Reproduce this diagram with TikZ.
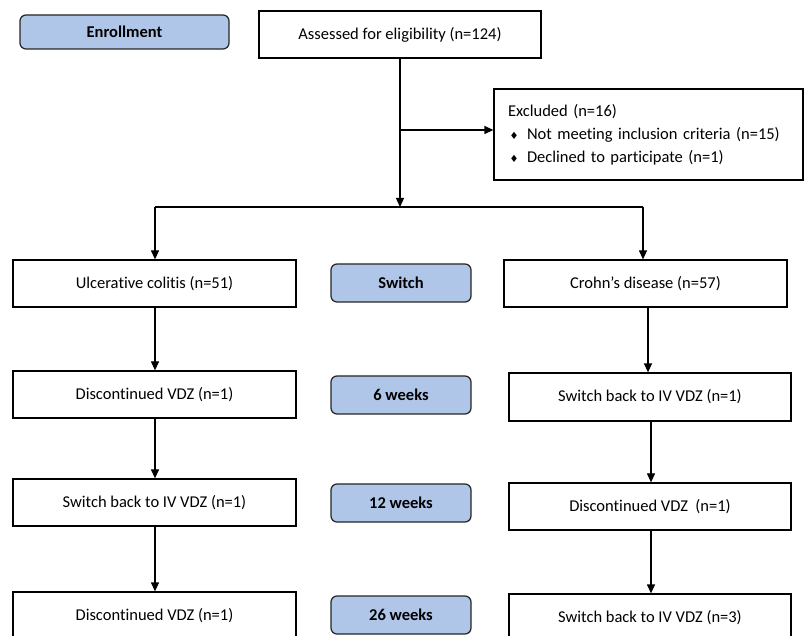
\documentclass[tikz,border=0pt]{standalone}
\usepackage{fontspec}
\setmainfont{Carlito}[Ligatures=NoCommon]
\newfontfamily\dejavu{DejaVu Sans}
\usetikzlibrary{arrows.meta}
\definecolor{boxblue}{HTML}{B0C6E8}
\newcommand{\bul}{{\dejavu\fontsize{10}{10}\selectfont ♦}}
\begin{document}
\begin{tikzpicture}[x=1pt,y=-1pt,
  font=\fontsize{16.5}{20}\selectfont,
  box/.style={draw=black, line width=1.25pt, fill=white, minimum width=283pt, minimum height=47pt, inner sep=0pt},
  stage/.style={draw=black!85, line width=1.25pt, fill=boxblue, rounded corners=6pt, minimum width=140pt, minimum height=38pt, inner sep=0pt, font=\fontsize{16.5}{20}\selectfont\bfseries},
  conn/.style={line width=1.25pt, draw=black},
  arr/.style={conn, -{Triangle[length=9pt,width=8pt]}}]
\clip (0,0) rectangle (804,636);
\fill[white] (0,0) rectangle (804,636);

\node[stage, minimum width=209pt, minimum height=34pt] (enroll) at (124.5,32) {Enrollment};
\node[box, minimum width=282pt] (assess) at (400,34.5) {Assessed for eligibility (n=124)};
\node[box, minimum width=309pt, minimum height=91pt, align=left, text width=281pt, inner xsep=14pt, font=\fontsize{16.5}{23}\selectfont] (excl) at (648.5,134.5)
  {Excluded (n=16)\\
   \makebox[19pt][l]{\hspace{1.5pt}\bul}Not meeting inclusion criteria (n=15)\\
   \makebox[19pt][l]{\hspace{1.5pt}\bul}Declined to participate (n=1)};

\node[box] (uc) at (154.5,283.5) {Ulcerative colitis (n=51)};
\node[stage] (sw) at (401,283) {Switch};
\node[box] (cd) at (645.5,283.5) {Crohn’s disease (n=57)};

\node[box] (ld1) at (154.5,394.5) {Discontinued VDZ (n=1)};
\node[stage] (w6) at (401,395) {6 weeks};
\node[box, minimum width=282pt, minimum height=48pt] (rd1) at (650,397) {Switch back to IV VDZ (n=1)};

\node[box] (ld2) at (154.5,502.5) {Switch back to IV VDZ (n=1)};
\node[stage] (w12) at (401,503) {12 weeks};
\node[box, minimum width=282pt] (rd2) at (650,506.5) {Discontinued VDZ\ \ (n=1)};

\node[box] (ld3) at (154.5,615.5) {Discontinued VDZ (n=1)};
\node[stage] (w26) at (401,615) {26 weeks};
\node[box, minimum width=282pt] (rd3) at (650,617.5) {Switch back to IV VDZ (n=3)};

\coordinate (split) at (400,207);
\coordinate (branch) at (400,130);
\coordinate (splitL) at (155,207);
\coordinate (splitR) at (643,207);
\coordinate (colR1) at (648,0);
\coordinate (colR2) at (651,0);
\draw[arr] (assess.south) -- (split);
\draw[arr] (branch) -- (branch -| excl.west);
\draw[conn] (splitL) -- (splitR);
\draw[arr] (splitL) -- (splitL |- uc.north);
\draw[arr] (splitR) -- (splitR |- cd.north);

\draw[arr] (uc.south -| splitL) -- (ld1.north -| splitL);
\draw[arr] (ld1.south -| splitL) -- (ld2.north -| splitL);
\draw[arr] (ld2.south -| splitL) -- (ld3.north -| splitL);
\draw[arr] (cd.south -| colR1) -- (rd1.north -| colR1);
\draw[arr] (rd1.south -| colR2) -- (rd2.north -| colR2);
\draw[arr] (rd2.south -| colR2) -- (rd3.north -| colR2);
\end{tikzpicture}
\end{document}
